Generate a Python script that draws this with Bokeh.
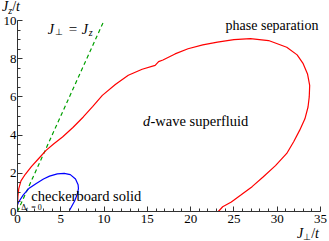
from bokeh.plotting import figure
from bokeh.models import Label, SingleIntervalTicker, Range1d, Div
from bokeh.layouts import column
from bokeh.embed import file_html
from bokeh.resources import INLINE

# ---- data ----
red_x = [0.0, 0.05, 0.15, 0.4, 0.9, 1.6, 2.4, 3.3, 4.2, 5.2, 6.4, 7.6, 8.7, 9.8, 11.3, 12.8,
         14.4, 15.9, 16.3, 16.8, 18.2, 19.7, 21.4, 23.1, 25.0, 26.9, 29.0, 31.1, 32.3, 33.0,
         33.5, 33.75, 33.7, 33.56, 33.2, 32.6, 31.9, 31.1, 29.8, 28.4, 27.1, 25.8, 24.7, 23.7, 23.2]
red_y = [0.35, 0.8, 1.2, 1.6, 1.95, 2.35, 2.75, 3.2, 3.55, 3.9, 4.4, 4.95, 5.5, 6.08, 6.65, 7.13,
         7.45, 7.65, 7.85, 7.93, 8.25, 8.52, 8.72, 8.87, 9.0, 9.05, 8.95, 8.6, 8.2, 7.74,
         7.2, 6.6, 6.0, 5.47, 4.85, 4.26, 3.65, 3.04, 2.4, 1.82, 1.3, 0.86, 0.5, 0.25, 0.0]
blue_x = [0.0, 0.08, 0.65, 1.3, 2.17, 3.0, 3.7, 4.6, 5.4, 6.1, 6.7, 7.0, 7.04, 6.9, 6.6, 6.3, 6.0]
blue_y = [0.35, 0.46, 0.86, 1.2, 1.47, 1.7, 1.85, 1.97, 2.0, 1.93, 1.7, 1.4, 1.2, 0.9, 0.55, 0.3, 0.05]
diag_x = [0, 10]
diag_y = [0, 10]

SERIF = "Liberation Serif"

p = figure(width=329, height=214, output_backend="svg", toolbar_location=None,
           x_range=Range1d(0, 35), y_range=Range1d(0, 10),
           min_border_left=14, min_border_right=9, min_border_top=6, min_border_bottom=17)
p.outline_line_color = None
p.xgrid.visible = False
p.ygrid.visible = False

p.xaxis.ticker = SingleIntervalTicker(interval=5, num_minor_ticks=5)
p.yaxis.ticker = SingleIntervalTicker(interval=2, num_minor_ticks=4)
for ax in (p.xaxis, p.yaxis):
    ax.axis_line_color = "#333333"
    ax.major_tick_line_color = "#333333"
    ax.minor_tick_line_color = "#333333"
    ax.major_tick_in = 5
    ax.major_tick_out = 0
    ax.minor_tick_in = 3
    ax.minor_tick_out = 0
    ax.major_label_text_font = SERIF
    ax.major_label_text_font_size = "13px"
    ax.major_label_text_color = "black"
p.xaxis.major_label_standoff = 3
p.yaxis.major_label_standoff = 1

p.line(diag_x, diag_y, line_color="#00a000", line_width=1.2, line_dash="4 3")
p.line(red_x, red_y, line_color="#ff0000", line_width=1.2)
p.line(blue_x, blue_y, line_color="#0000ff", line_width=1.2)


def put(x, y, text, xo=0, yo=0, size=13, style="normal", align="left"):
    p.add_layout(Label(x=x, y=y, x_offset=xo, y_offset=yo, text=text,
                       text_font=SERIF, text_font_size=f"{size}px", text_font_style=style,
                       text_align=align, text_baseline="alphabetic", text_color="black"))


# J_perp = J_z
put(3.5, 9.53, "J", size=14, style="italic")
put(3.5, 9.53, "\u22a5", xo=7, yo=-3, size=9)
put(3.5, 9.53, "=", xo=21, size=15)
put(3.5, 9.53, "J", xo=34, size=14, style="italic")
put(3.5, 9.53, "z", xo=41, yo=-3, size=10, style="italic")

put(29.4, 9.75, "phase separation", size=14, align="center")
put(14.5, 4.73, "d", size=14.5, style="italic")
put(14.5, 4.73, "-wave superfluid", xo=7.5, size=14.5)
put(1.6, 0.81, "checkerboard solid", size=14.5)

put(0.42, 0.23, "\u0394", size=8)
put(0.42, 0.23, "t", xo=5, yo=-2, size=6, style="italic")
put(0.42, 0.23, "= 0", xo=10, size=8)

top = Div(text='<i>J</i><span style="font-size:10px; font-style:italic; position:relative; top:3px">z</span>/<i>t</i>',
          width=329, height=14,
          styles={"font-family": "Liberation Serif", "font-size": "14px", "line-height": "14px",
                  "color": "black", "margin": "0", "padding-left": "2px"})
bottom = Div(text='<i>J</i><span style="font-size:9px; position:relative; top:2px">\u22a5</span>/<i>t</i>',
             width=329, height=13,
             styles={"font-family": "Liberation Serif", "font-size": "14px", "line-height": "12px",
                     "color": "black", "margin": "0", "padding-left": "297px"})

layout = column(top, p, bottom, spacing=0)
open("out.html", "w").write(file_html(layout, INLINE))
